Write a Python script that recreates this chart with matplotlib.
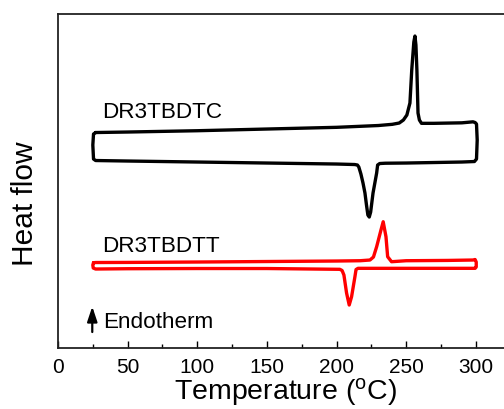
import matplotlib
matplotlib.use('Agg')
import matplotlib.pyplot as plt

plt.rcParams['font.family'] = ['Liberation Sans', 'DejaVu Sans']
plt.rcParams['mathtext.default'] = 'regular'

# DR3TBDTC: heating run (top), right turn, cooling run (bottom), left turn
tc_temp = [27, 50, 100, 150, 200, 230, 240, 245, 248, 250.5, 252.7, 254, 255.5, 256.3, 257, 257.7,
           258.5, 259.5, 261, 270, 290, 298,
           299.5, 300.5, 301, 300.5, 299,
           290, 270, 250, 235, 231, 229.5, 228.8, 227.5, 226.2, 225.3, 224.5, 223.5, 222.5, 221.5,
           220.4, 219, 217.5, 216, 215, 213, 200, 150, 100, 50, 27,
           25.5, 25, 25.5, 27]
tc_flow = [267.5, 268, 269.3, 271, 272.7, 274.5, 275.7, 277, 280, 285, 297, 330, 358, 364, 355, 330,
           287, 280, 276.7, 276.7, 277.2, 278.2,
           277.5, 276, 260, 241, 238.5,
           238, 237.5, 237, 236.8, 236.5, 235, 227, 217, 207, 197, 188, 183, 185, 195,
           207, 217, 226, 233, 235, 235.5, 236, 237, 238, 239, 239.5,
           241, 255, 266, 267.5]

# DR3TBDTT
tt_temp = [25.5, 27, 50, 100, 150, 200, 217, 224, 226.5, 228.8, 231.9, 233.5, 235.5, 236.7, 239.5,
           250, 280, 298,
           299.5, 300.3, 300.3, 299.5,
           280, 250, 215.4, 214, 213.2, 210.8, 209.1, 207.2, 205.3, 204, 202.4, 150, 100, 50, 27,
           25.3, 25, 25.5]
tt_flow = [137.3, 137.5, 137.6, 138, 138.5, 139, 139.3, 140, 143, 153.3, 170, 178.3, 163.3, 143.3, 138.3,
           139.3, 139.6, 140,
           140.5, 138, 133, 131.7,
           131.7, 131.7, 131.7, 130.5, 123.3, 103.3, 95, 107, 125, 129.5, 130.7, 131.5, 131.5, 131.3, 131,
           132, 135, 137.3]

xticks = [0, 50, 100, 150, 200, 250, 300]

fig = plt.figure(figsize=(5.04, 4.09), dpi=100)
ax = fig.add_axes([0.1151, 0.1491, 0.9008, 0.8166])

ax.plot(tc_temp, tc_flow, color='black', lw=2.4, solid_joinstyle='round', solid_capstyle='round')
ax.plot(tt_temp, tt_flow, color='#ff0000', lw=2.4, solid_joinstyle='round', solid_capstyle='round')

ax.text(31.6, 281.7, 'DR3TBDTC', fontsize=16.2, va='baseline', ha='left')
ax.text(31.8, 148.3, 'DR3TBDTT', fontsize=16.2, va='baseline', ha='left')
ax.text(32.3, 72, 'Endotherm', fontsize=16.2, va='baseline', ha='left')
ax.annotate('', xy=(24.6, 93.5), xytext=(24.6, 68),
            arrowprops=dict(arrowstyle='-|>,head_length=0.9,head_width=0.3', color='black', lw=1.6,
                            shrinkA=0, shrinkB=0))

ax.set_xlim(0, 326)
ax.set_ylim(52, 386)
ax.set_xticks(xticks)
ax.set_xticks([25, 75, 125, 175, 225, 275], minor=True)
ax.set_yticks([])
ax.tick_params(axis='x', which='major', direction='in', length=5, width=1, labelsize=15, pad=7)
ax.tick_params(axis='x', which='minor', direction='in', length=3, width=1)
for s in ['left', 'bottom', 'top']:
    ax.spines[s].set_linewidth(1.3)
    ax.spines[s].set_color('#222222')
ax.spines['right'].set_visible(False)

ax.set_xlabel('Temperature ($^{o}$C)', fontsize=20.5, labelpad=-0.5)
ax.set_ylabel('Heat flow', fontsize=21.5)
ax.yaxis.set_label_coords(-0.042, 0.431)

fig.savefig('out.png', dpi=100)
